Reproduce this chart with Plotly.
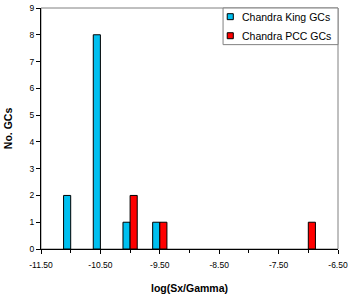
import plotly.graph_objects as go

# Bin edges (log Sx/Gamma) and counts
king_bins = [-11.0, -10.5, -10.0, -9.5]
king_counts = [2, 8, 1, 1]
pcc_bins = [-10.0, -9.5, -7.0]
pcc_counts = [2, 1, 1]

series_names = ["Chandra King GCs", "Chandra PCC GCs"]
x_tick_vals = [-11.5, -10.5, -9.5, -8.5, -7.5, -6.5]
x_tick_text = ["-11.50", "-10.50", "-9.50", "-8.50", "-7.50", "-6.50"]
y_ticks = list(range(0, 10))

KING_COLOR = "#00C0F0"
PCC_COLOR = "#FF0000"
BW = 0.12
fig = go.Figure()
fig.add_trace(go.Bar(x=king_bins, y=king_counts, name=series_names[0],
                     width=BW, offset=-BW,
                     marker=dict(color=KING_COLOR, line=dict(color="black", width=1))))
fig.add_trace(go.Bar(x=pcc_bins, y=pcc_counts, name=series_names[1],
                     width=BW, offset=0,
                     marker=dict(color=PCC_COLOR, line=dict(color="black", width=1))))

font = "Arial, Liberation Sans, sans-serif"

# Manual Excel-style legend (box, small swatches, text)
shapes = [
    dict(type="rect", xref="paper", yref="paper", x0=0, y0=0, x1=1, y1=1,
         line=dict(color="#808080", width=1), layer="below"),
    dict(type="rect", xref="paper", yref="paper", x0=0.613, y0=0.848, x1=1.0, y1=1.0,
         line=dict(color="#808080", width=1), fillcolor="white", layer="above"),
]
annotations = []
legend_y = [0.964, 0.885]
for nm, col, ly in zip(series_names, [KING_COLOR, PCC_COLOR], legend_y):
    shapes.append(dict(type="rect", xref="paper", yref="paper",
                       x0=0.627, x1=0.6475, y0=ly - 0.0124, y1=ly + 0.0124,
                       line=dict(color="black", width=1), fillcolor=col, layer="above"))
    annotations.append(dict(xref="paper", yref="paper", x=0.669, y=ly,
                            xanchor="left", yanchor="middle", showarrow=False,
                            text=nm, font=dict(family=font, size=10.5, color="black")))

fig.update_layout(
    width=354, height=294,
    margin=dict(l=41, r=16, t=8, b=45),
    paper_bgcolor="white", plot_bgcolor="white",
    barmode="overlay",
    font=dict(family=font, size=9, color="black"),
    showlegend=False,
    xaxis=dict(range=[-11.5, -6.5], tickvals=x_tick_vals, ticktext=x_tick_text,
               automargin=False,
               showgrid=False, zeroline=False, showline=True, linecolor="black",
               linewidth=1, ticks="outside", ticklen=4, tickcolor="black",
               ticklabelstandoff=4,
               minor=dict(dtick=0.5, tick0=-11.5, ticks="outside", ticklen=3,
                          tickcolor="black", showgrid=False),
               tickfont=dict(size=8.5),
               title=dict(text="<b>log(Sx/Gamma)</b>", font=dict(size=10.5), standoff=15)),
    yaxis=dict(range=[0, 9], tickvals=y_ticks,
               automargin=False,
               showgrid=False, zeroline=False, showline=True, linecolor="black",
               linewidth=1, ticks="outside", ticklen=4, tickcolor="black",
               tickfont=dict(size=8.5),
               title=dict(text="<b>No. GCs</b>", font=dict(size=10.5), standoff=14)),
    shapes=shapes,
    annotations=annotations,
)

fig.write_html("out.html", config={"displayModeBar": False},
               post_script="document.body.style.margin='0';")
